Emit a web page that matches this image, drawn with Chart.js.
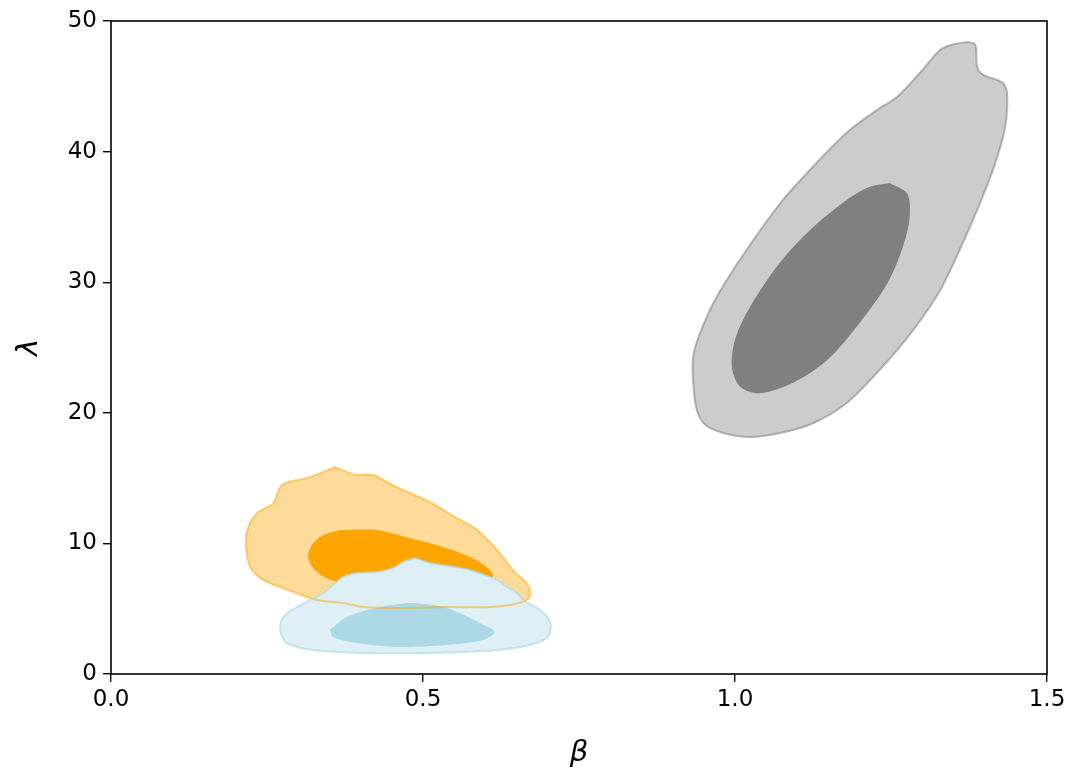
<!DOCTYPE html>
<html>
<head>
<meta charset="utf-8">
<script src="https://cdn.jsdelivr.net/npm/chart.js@4.4.1/dist/chart.umd.min.js"></script>
<style>
  html, body { margin: 0; padding: 0; background: #fff; }
  #wrap { width: 1070px; height: 774px; }
</style>
</head>
<body>
<div id="wrap"><canvas id="contourChart" width="1070" height="774"></canvas></div>
<script>
// axis ticks
const betaTicks = [0, 0.5, 1.0, 1.5];
const lambdaTicks = [0, 10, 20, 30, 40, 50];

// contour outlines, [beta, lambda] pairs
const grayOuter = [
  [1.372, 48.4], [1.385, 48.2], [1.388, 46.5], [1.397, 45.9], [1.428, 45.3], [1.436, 44.5],
  [1.433, 41.9], [1.417, 39.1], [1.393, 36.1], [1.365, 33.0], [1.329, 29.4], [1.285, 26.3],
  [1.232, 23.3], [1.179, 20.75], [1.125, 19.2], [1.072, 18.45], [1.024, 18.15], [0.981, 18.45],
  [0.952, 19.1], [0.939, 20.2], [0.933, 22.3], [0.933, 24.3], [0.944, 26.1], [0.971, 28.9],
  [1.019, 32.5], [1.077, 36.3], [1.136, 39.4], [1.184, 41.65], [1.228, 43.2], [1.260, 44.2],
  [1.296, 46.0], [1.329, 47.8], [1.349, 48.2]
];
const grayInner = [
  [1.248, 37.6], [1.276, 36.8], [1.280, 35.0], [1.269, 32.7], [1.244, 29.9], [1.200, 26.9],
  [1.147, 24.0], [1.093, 22.3], [1.040, 21.5], [1.008, 22.0], [0.995, 23.5], [1.000, 25.6],
  [1.024, 28.1], [1.072, 31.5], [1.125, 34.2], [1.179, 36.3], [1.216, 37.3]
];
const orangeOuter = [
  [0.359, 15.85], [0.378, 15.47], [0.394, 15.24], [0.420, 15.24], [0.442, 14.70], [0.468, 14.09],
  [0.511, 13.17], [0.554, 11.94], [0.587, 11.03], [0.619, 9.49], [0.644, 7.96], [0.668, 6.81],
  [0.671, 5.90], [0.655, 5.44], [0.607, 5.13], [0.532, 5.13], [0.458, 5.05], [0.404, 5.13],
  [0.372, 5.44], [0.330, 5.67], [0.276, 6.58], [0.244, 7.20], [0.223, 8.19], [0.216, 10.03],
  [0.220, 11.26], [0.234, 12.33], [0.260, 13.09], [0.271, 14.32], [0.284, 14.70], [0.314, 15.01],
  [0.340, 15.47]
];
const orangeInner = [
  [0.367, 11.03], [0.426, 11.03], [0.479, 10.41], [0.532, 9.72], [0.575, 8.96], [0.604, 8.12],
  [0.612, 7.43], [0.575, 6.97], [0.495, 6.74], [0.415, 6.81], [0.362, 7.04], [0.330, 7.81],
  [0.316, 8.88], [0.322, 9.88], [0.340, 10.64]
];
const blueOuter = [
  [0.487, 8.88], [0.511, 8.50], [0.532, 8.35], [0.575, 7.96], [0.619, 7.20], [0.635, 6.66],
  [0.651, 6.20], [0.660, 5.67], [0.688, 4.90], [0.704, 3.91], [0.700, 2.83], [0.671, 2.22],
  [0.619, 1.84], [0.511, 1.61], [0.404, 1.61], [0.324, 1.84], [0.282, 2.37], [0.271, 3.37],
  [0.276, 4.36], [0.298, 5.13], [0.340, 6.20], [0.372, 7.43], [0.394, 7.73], [0.426, 7.81],
  [0.452, 8.12], [0.468, 8.58]
];
const blueInner = [
  [0.351, 3.37], [0.378, 4.36], [0.431, 5.13], [0.484, 5.44], [0.538, 5.05], [0.591, 3.91],
  [0.615, 3.22], [0.596, 2.60], [0.538, 2.22], [0.458, 2.07], [0.394, 2.37], [0.356, 2.83]
];

function closed(pts) {
  const out = pts.map(p => ({ x: p[0], y: p[1] }));
  out.push({ x: pts[0][0], y: pts[0][1] });
  return out;
}

// filled region, no edge
function region(label, pts, color, order) {
  return {
    label: label,
    data: closed(pts),
    showLine: true,
    fill: 'shape',
    backgroundColor: color,
    borderColor: color,
    borderWidth: 0,
    pointRadius: 0,
    pointHoverRadius: 0,
    tension: 0.3,
    order: order
  };
}

// contour line only, drawn above the fills
function outline(label, pts, color, order) {
  return {
    label: label,
    data: closed(pts),
    showLine: true,
    fill: false,
    borderColor: color,
    borderWidth: 2,
    pointRadius: 0,
    pointHoverRadius: 0,
    tension: 0.3,
    order: order
  };
}

// frame round the plot area (matplotlib spines)
const frame = {
  id: 'frame',
  afterDraw(chart) {
    const a = chart.chartArea, c = chart.ctx;
    c.save();
    c.strokeStyle = '#000';
    c.lineWidth = 1.6;
    c.strokeRect(a.left, a.top, a.right - a.left, a.bottom - a.top);
    c.restore();
  }
};

const tickFont = { family: 'DejaVu Sans', size: 23 };

new Chart(document.getElementById('contourChart'), {
  type: 'scatter',
  data: {
    datasets: [
      region('gray outer', grayOuter, 'rgb(204,204,204)', 9),
      outline('gray outer line', grayOuter, 'rgba(128,128,128,0.55)', 8),
      region('gray inner', grayInner, 'rgb(128,128,128)', 7),
      region('orange outer', orangeOuter, 'rgb(255,219,153)', 6),
      region('orange inner', orangeInner, 'rgb(255,165,0)', 5),
      region('blue outer', blueOuter, 'rgb(222,239,245)', 4),
      region('blue inner', blueInner, 'rgb(173,216,230)', 3),
      outline('orange outer line', orangeOuter, 'rgba(255,165,0,0.5)', 2),
      outline('blue outer line', blueOuter, 'rgba(173,216,230,0.65)', 1)
    ]
  },
  options: {
    responsive: false,
    animation: false,
    layout: { padding: { left: 0, right: 23, top: 21, bottom: 0 } },
    plugins: {
      legend: { display: false },
      tooltip: { enabled: false }
    },
    scales: {
      x: {
        type: 'linear',
        min: 0,
        max: 1.5,
        afterBuildTicks: s => { s.ticks = betaTicks.map(v => ({ value: v })); },
        afterFit: s => { s.height = 100; },
        ticks: {
          color: '#000',
          font: tickFont,
          padding: 4,
          maxRotation: 0,
          callback: v => v.toFixed(1)
        },
        grid: { drawOnChartArea: false, tickLength: 8, color: '#000', lineWidth: 1.4 },
        border: { display: false },
        title: {
          display: true,
          text: 'β',
          color: '#000',
          font: { family: 'DejaVu Sans', size: 29, style: 'italic' },
          padding: { top: 0, bottom: 3 }
        }
      },
      y: {
        type: 'linear',
        min: 0,
        max: 50,
        afterBuildTicks: s => { s.ticks = lambdaTicks.map(v => ({ value: v })); },
        afterFit: s => { s.width = 111; },
        ticks: {
          color: '#000',
          font: tickFont,
          padding: 6
        },
        grid: { drawOnChartArea: false, tickLength: 8, color: '#000', lineWidth: 1.4 },
        border: { display: false },
        title: {
          display: true,
          text: 'λ',
          color: '#000',
          font: { family: 'DejaVu Sans', size: 29, style: 'italic' },
          padding: { top: 12, bottom: 0 }
        }
      }
    }
  },
  plugins: [frame]
});
</script>
</body>
</html>
